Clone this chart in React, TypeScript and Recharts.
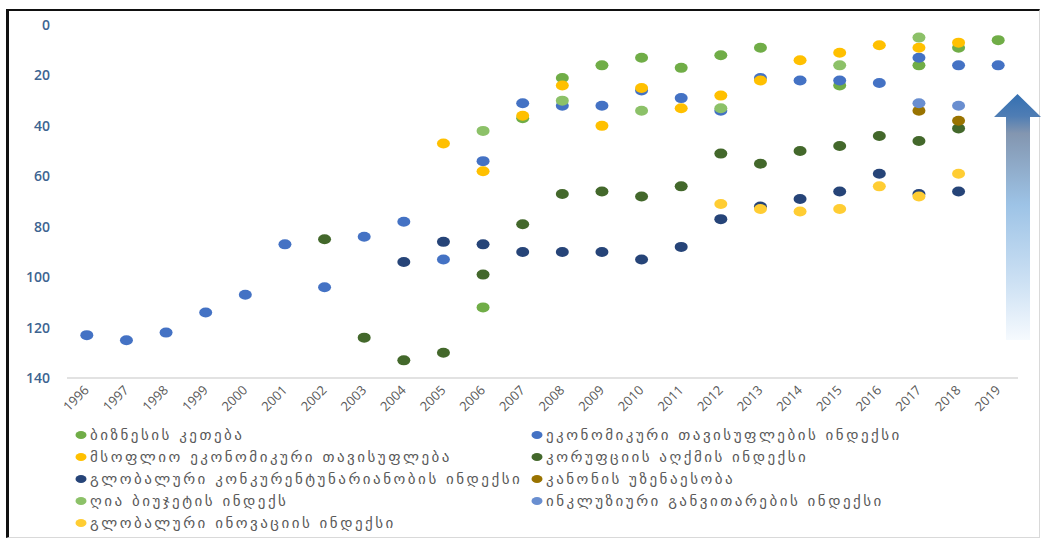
import React from 'react';
import { ScatterChart, Scatter, XAxis, YAxis } from 'recharts';

// years on the x axis
const years = [1996, 1997, 1998, 1999, 2000, 2001, 2002, 2003, 2004, 2005, 2006, 2007,
  2008, 2009, 2010, 2011, 2012, 2013, 2014, 2015, 2016, 2017, 2018, 2019];

const rankTicks = [0, 20, 40, 60, 80, 100, 120, 140];

// ranks per year (null = no value), aligned with `years`
const doingBusiness = [null, null, null, null, null, null, null, null, null, null, 112, 37,
  21, 16, 13, 17, 12, 9, null, 24, null, 16, 9, 6];
const economicFreedomIndex = [123, 125, 122, 114, 107, 87, 104, 84, 78, 93, 54, 31,
  32, 32, 26, 29, 34, 21, 22, 22, 23, 13, 16, 16];
const worldEconomicFreedom = [null, null, null, null, null, null, null, null, null, 47, 58, 36,
  24, 40, 25, 33, 28, 22, 14, 11, 8, 9, 7, null];
const corruptionIndex = [null, null, null, null, null, null, 85, 124, 133, 130, 99, 79,
  67, 66, 68, 64, 51, 55, 50, 48, 44, 46, 41, null];
const competitivenessIndex = [null, null, null, null, null, null, null, null, 94, 86, 87, 90,
  90, 90, 93, 88, 77, 72, 69, 66, 59, 67, 66, null];
const ruleOfLaw = [null, null, null, null, null, null, null, null, null, null, null, null,
  null, null, null, null, null, null, null, null, null, 34, 38, null];
const openBudget = [null, null, null, null, null, null, null, null, null, null, 42, null,
  30, null, 34, null, 33, null, null, 16, null, 5, null, null];
const inclusiveDevelopment = [null, null, null, null, null, null, null, null, null, null, null, null,
  null, null, null, null, null, null, null, null, null, 31, 32, null];
const innovationIndex = [null, null, null, null, null, null, null, null, null, null, null, null,
  null, null, null, null, 71, 73, 74, 73, 64, 68, 59, null];

const series = [
  { name: 'ბიზნესის კეთება', color: '#70AD47', values: doingBusiness },
  { name: 'ეკონომიკური თავისუფლების ინდექსი', color: '#4472C4', values: economicFreedomIndex },
  { name: 'მსოფლიო ეკონომიკური თავისუფლება', color: '#FFC000', values: worldEconomicFreedom },
  { name: 'კორუფციის აღქმის ინდექსი', color: '#43682B', values: corruptionIndex },
  { name: 'გლობალური კონკურენტუნარიანობის ინდექსი', color: '#264478', values: competitivenessIndex },
  { name: 'კანონის უზენაესობა', color: '#997300', values: ruleOfLaw },
  { name: 'ღია ბიუჯეტის ინდექს', color: '#8CC168', values: openBudget },
  { name: 'ინკლუზიური განვითარების ინდექსი', color: '#698ED0', values: inclusiveDevelopment },
  { name: 'გლობალური ინოვაციის ინდექსი', color: '#FFCD33', values: innovationIndex },
];

const toPoints = (values: (number | null)[]) =>
  years.map((year, i) => ({ year, rank: values[i] })).filter((d) => d.rank !== null);

const dotShape = (color: string) => (props: any) =>
  <ellipse cx={props.cx} cy={props.cy} rx={6.5} ry={5} fill={color} />;

const YearTick = (props: any) => {
  const { x, y, payload } = props;
  const tx = x + 3;
  const ty = y + 5;
  return (
    <text x={tx} y={ty} transform={`rotate(-45 ${tx} ${ty})`} textAnchor="end"
      fill="#595959" fontSize={13} fontFamily="'Open Sans', sans-serif">
      {payload.value}
    </text>
  );
};

const Arrow = () => (
  <svg width={1041} height={539} style={{ position: 'absolute', left: 0, top: 0, pointerEvents: 'none' }}>
    <defs>
      <linearGradient id="arrowFill" gradientUnits="userSpaceOnUse" x1="0" y1="94" x2="0" y2="340">
        <stop offset="0%" stopColor="#3470B2" />
        <stop offset="9%" stopColor="#4F7DB4" />
        <stop offset="16%" stopColor="#8396B0" />
        <stop offset="45%" stopColor="#9DC3E6" />
        <stop offset="78%" stopColor="#CFE2F4" />
        <stop offset="100%" stopColor="#F6FAFE" />
      </linearGradient>
    </defs>
    <polygon points="1017.5,94 1041,117 1030,117 1030,340 1006,340 1006,117 994,117"
      fill="url(#arrowFill)" />
  </svg>
);

export default function App() {
  return (
    <div style={{ position: 'absolute', left: 0, top: 0, width: 1041, height: 539, background: '#fff', overflow: 'hidden' }}>
      <div style={{
        position: 'absolute', left: 6, top: 9, width: 1034, height: 529, boxSizing: 'border-box',
        borderLeft: '3px solid #111', borderTop: '2px solid #111',
        borderRight: '1px solid #D9D9D9', borderBottom: '1px solid #D9D9D9',
      }} />
      <div style={{ position: 'absolute', left: 0, top: 0 }}>
        <ScatterChart width={1041} height={420} margin={{ top: 25, right: 23, left: 17, bottom: 0 }}>
          <XAxis dataKey="year" type="number" domain={[1995.5, 2019.5]} ticks={years}
            interval={0} height={42} tickLine={false} axisLine={{ stroke: '#D9D9D9', strokeWidth: 1.5 }}
            tick={<YearTick />} />
          <YAxis dataKey="rank" type="number" domain={[0, 140]} reversed ticks={rankTicks}
            width={50} axisLine={false} tickLine={false} tickMargin={11}
            tick={{ fill: '#3D6491', fontSize: 14, fontWeight: 600, fontFamily: "'Open Sans', sans-serif" }} />
          {series.map((s) => (
            <Scatter key={s.name} name={s.name} data={toPoints(s.values)} fill={s.color}
              shape={dotShape(s.color)} isAnimationActive={false} />
          ))}
        </ScatterChart>
      </div>
      <Arrow />
      <div style={{ position: 'absolute', left: 74, top: 424, width: 960, display: 'grid',
        gridTemplateColumns: '456px 480px', rowGap: 0,
        fontFamily: "'DejaVu Sans', sans-serif", fontSize: 15, color: '#595959' }}>
        {series.map((s) => (
          <div key={s.name} style={{ display: 'flex', alignItems: 'center', height: 22, whiteSpace: 'nowrap' }}>
            <svg width={14} height={10} style={{ marginRight: 2 }}>
              <ellipse cx={7} cy={5} rx={5.5} ry={4} fill={s.color} />
            </svg>
            <span style={{ letterSpacing: 2.5 }}>{s.name}</span>
          </div>
        ))}
      </div>
    </div>
  );
}
